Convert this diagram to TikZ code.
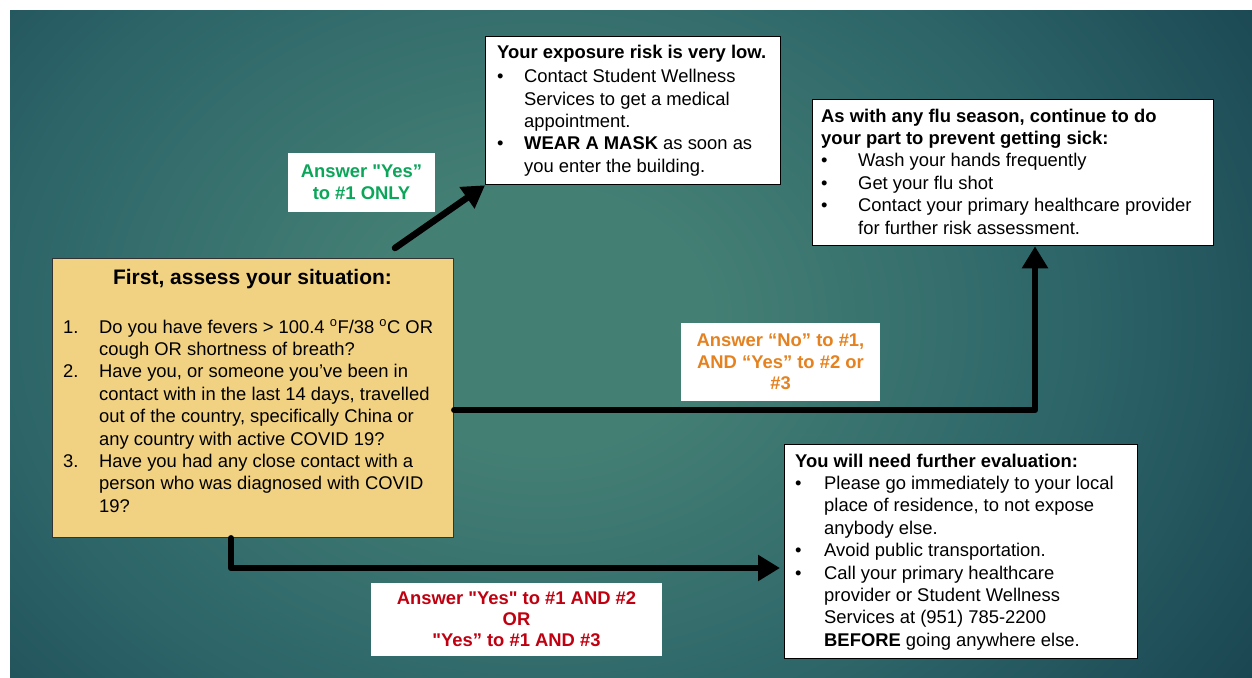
\documentclass[tikz,border=0pt]{standalone}
\usepackage{fontspec}
\setmainfont{Liberation Sans}
\usetikzlibrary{arrows.meta}
\definecolor{bgin}{HTML}{447F74}
\definecolor{bgmid}{HTML}{2C6468}
\definecolor{bgout}{HTML}{133A49}
\definecolor{qfill}{HTML}{F1D283}
\definecolor{lgreen}{HTML}{0BA65A}
\definecolor{lorange}{HTML}{E5821F}
\definecolor{lred}{HTML}{C00010}
\pgfdeclareradialshading{bgshade}{\pgfpoint{0bp}{0bp}}{color(0bp)=(bgin); color(4bp)=(bgin); color(13bp)=(bgmid); color(23bp)=(bgout); color(50bp)=(bgout)}
\newcommand\bodyfont{\fontsize{18.4}{22.4}\selectfont}
\newcommand\sq{\textquotedbl}
\begin{document}
\begin{tikzpicture}[x=1pt,y=-1pt,
  box/.style={draw=black, line width=1.3pt, fill=white, inner sep=0pt, anchor=north west},
  lab/.style={fill=white, inner sep=0pt, align=center, font=\bfseries\fontsize{18.4}{22}\selectfont},
  txt/.style={inner sep=0pt, anchor=base west, font=\bodyfont},
  arr/.style={line width=6.5pt, line join=round, line cap=round, -{Triangle[length=22pt,width=25pt]}}]
\useasboundingbox (0,0) rectangle (1252,677);
\fill[white] (0,0) rectangle (1252,677);
\begin{scope}
\clip (10,11) rectangle (1252,677);
\fill[bgout] (10,11) rectangle (1252,677);
\shade[shading=bgshade] (540,320) ellipse [x radius=1050pt, y radius=820pt];
\end{scope}
% boxes
\node[box, fill=qfill, draw=black!80, minimum width=401pt, minimum height=279pt] (q) at (52,258) {};
\node[box, minimum width=295pt, minimum height=148pt] (expo) at (485,36) {};
\node[box, minimum width=401pt, minimum height=146pt] (flu) at (812,99) {};
\node[box, minimum width=353pt, minimum height=214pt] (eval) at (784,444) {};
% question box text
\node[inner sep=0pt, anchor=base, font=\bfseries\fontsize{21}{25}\selectfont] (qt) at (252.5,284) {First, assess your situation:};
\node[txt] (qlist) at (63,333) {\begin{tabular}[t]{@{}p{36pt}@{}l@{}}
1. & Do you have fevers > 100.4 \textsuperscript{o}F/38 \textsuperscript{o}C OR\\
 & cough OR shortness of breath?\\
2. & Have you, or someone you've been in\\
 & contact with in the last 14 days, travelled\\
 & out of the country, specifically China or\\
 & any country with active COVID 19?\\
3. & Have you had any close contact with a\\
 & person who was diagnosed with COVID\\
 & 19?
\end{tabular}};
% exposure text
\node[txt] (expot) at (497,59) {\begin{tabular}[t]{@{}p{27pt}@{}l@{}}
\multicolumn{2}{@{}l@{}}{\bfseries Your exposure risk is very low.}\\[1.3pt]
\textbullet & Contact Student Wellness\\
 & Services to get a medical\\
 & appointment.\\
\textbullet & \textbf{WEAR A MASK} as soon as\\
 & you enter the building.
\end{tabular}};
% flu text
\node[txt] (flut) at (821,122) {\begin{tabular}[t]{@{}p{37pt}@{}l@{}}
\multicolumn{2}{@{}l@{}}{\bfseries As with any flu season, continue to do}\\
\multicolumn{2}{@{}l@{}}{\bfseries your part to prevent getting sick:}\\
\textbullet & Wash your hands frequently\\
\textbullet & Get your flu shot\\
\textbullet & Contact your primary healthcare provider\\
 & for further risk assessment.
\end{tabular}};
% evaluation text
\node[txt] (evalt) at (795,467) {\begin{tabular}[t]{@{}p{29pt}@{}l@{}}
\multicolumn{2}{@{}l@{}}{\bfseries You will need further evaluation:}\\
\textbullet & Please go immediately to your local\\
 & place of residence, to not expose\\
 & anybody else.\\
\textbullet & Avoid public transportation.\\
\textbullet & Call your primary healthcare\\
 & provider or Student Wellness\\
 & Services at (951) 785-2200\\
 & \textbf{BEFORE} going anywhere else.
\end{tabular}};
% labels
\node[lab, text=lgreen, minimum width=147pt, minimum height=59pt] (lg) at (361.5,182.5) {Answer \sq Yes”\\to \#1 ONLY};
\node[lab, text=lorange, minimum width=199pt, minimum height=78pt, font=\bfseries\fontsize{18.4}{21.5}\selectfont] (lo) at (780.5,362) {Answer “No” to \#1,\\AND “Yes” to \#2 or\\\#3};
\node[lab, text=lred, minimum width=291pt, minimum height=73pt, font=\bfseries\fontsize{18.4}{21}\selectfont] (lr) at (516.5,619.5) {Answer \sq Yes\sq{} to \#1 AND \#2\\OR\\\sq Yes” to \#1 AND \#3};
% arrows
\coordinate (a1) at (395,248);
\draw[arr] (a1) -- (expo.south west);
\coordinate (a2) at (1035,410);
\draw[arr] (q.east |- a2) -- (a2) -- (flu.south -| a2);
\coordinate (a3) at (231,568);
\draw[arr, shorten >=4pt] (q.south -| a3) -- (a3) -- (eval.west |- a3);
\end{tikzpicture}
\end{document}
